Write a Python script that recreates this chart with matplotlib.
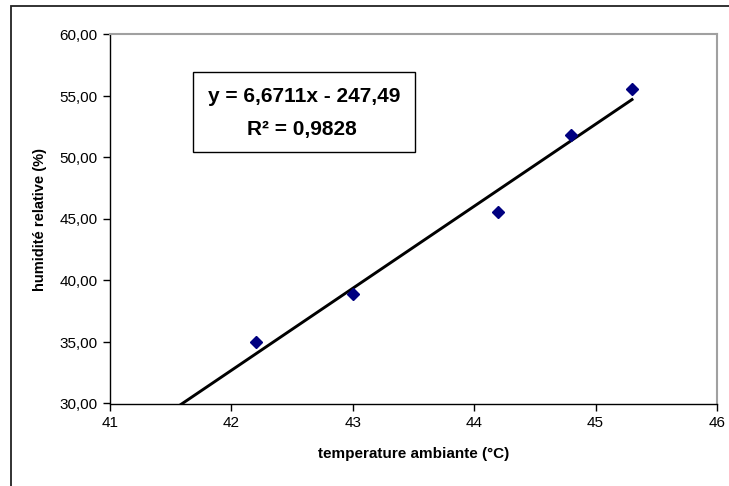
import numpy as np
import matplotlib
matplotlib.use("Agg")
import matplotlib.pyplot as plt
from matplotlib.patches import Rectangle
from matplotlib.ticker import FuncFormatter

# Données
temperature = [42.2, 43.0, 44.2, 44.8, 45.3]
humidite = [35.0, 38.9, 45.6, 51.8, 55.6]

# Courbe de tendance (régression linéaire Excel)
pente = 6.6711
ordonnee = -247.49
r2 = 0.9828
x_tendance = [41.0, 45.3]

x_ticks = [41, 42, 43, 44, 45, 46]
y_ticks = [30, 35, 40, 45, 50, 55, 60]

plt.rcParams['font.family'] = ['Liberation Sans', 'DejaVu Sans']

fig = plt.figure(figsize=(7.29, 4.86), dpi=100)
ax = fig.add_axes([110 / 729, 1 - 403.5 / 486, 607 / 729, 369 / 486])

# Cadre extérieur du graphique (style Excel)
fig.patches.append(Rectangle((11 / 729, -0.05), 1.1, 1 - 6 / 486 + 0.05,
                             transform=fig.transFigure, fill=False,
                             edgecolor='#222222', linewidth=1.3))

# Points mesurés
ax.plot(temperature, humidite, linestyle='none', marker='D', markersize=6.5,
        color='#000080', zorder=3)

# Droite de tendance
xt = np.array(x_tendance)
ax.plot(xt, pente * xt + ordonnee, color='black', linewidth=2.1, zorder=2)

ax.set_xlim(41, 46)
ax.set_ylim(30, 60)
ax.set_xticks(x_ticks)
ax.set_yticks(y_ticks)
ax.yaxis.set_major_formatter(FuncFormatter(lambda v, p: f"{v:.2f}".replace('.', ',')))
ax.tick_params(direction='out', length=5, width=1, labelsize=11, pad=4, colors='black')

for cote in ['top', 'right']:
    ax.spines[cote].set_color('#a0a0a0')
    ax.spines[cote].set_linewidth(1.5)
for cote in ['left', 'bottom']:
    ax.spines[cote].set_color('black')
    ax.spines[cote].set_linewidth(1.0)

ax.set_xlabel('temperature ambiante (°C)', fontsize=11, fontweight='bold', labelpad=12)
ax.set_ylabel('humidité relative (%)', fontsize=10.5, fontweight='bold', labelpad=9)

# Encadré de l'équation
fig.patches.append(Rectangle((193 / 729, 1 - 151.7 / 486), 222 / 729, 80 / 486,
                             transform=fig.transFigure, fill=True, facecolor='white',
                             edgecolor='black', linewidth=1.0, zorder=5))
eq = f"y = {pente:.4f}x - {abs(ordonnee):.2f}".replace('.', ',')
fig.text(304 / 729, 1 - 96 / 486, eq, ha='center', va='center',
         fontsize=15, fontweight='bold', zorder=6)
fig.text(302 / 729, 1 - 129 / 486, f"R² = {r2:.4f}".replace('.', ','),
         ha='center', va='center', fontsize=15, fontweight='bold', zorder=6)

fig.savefig('out.png', dpi=100)
